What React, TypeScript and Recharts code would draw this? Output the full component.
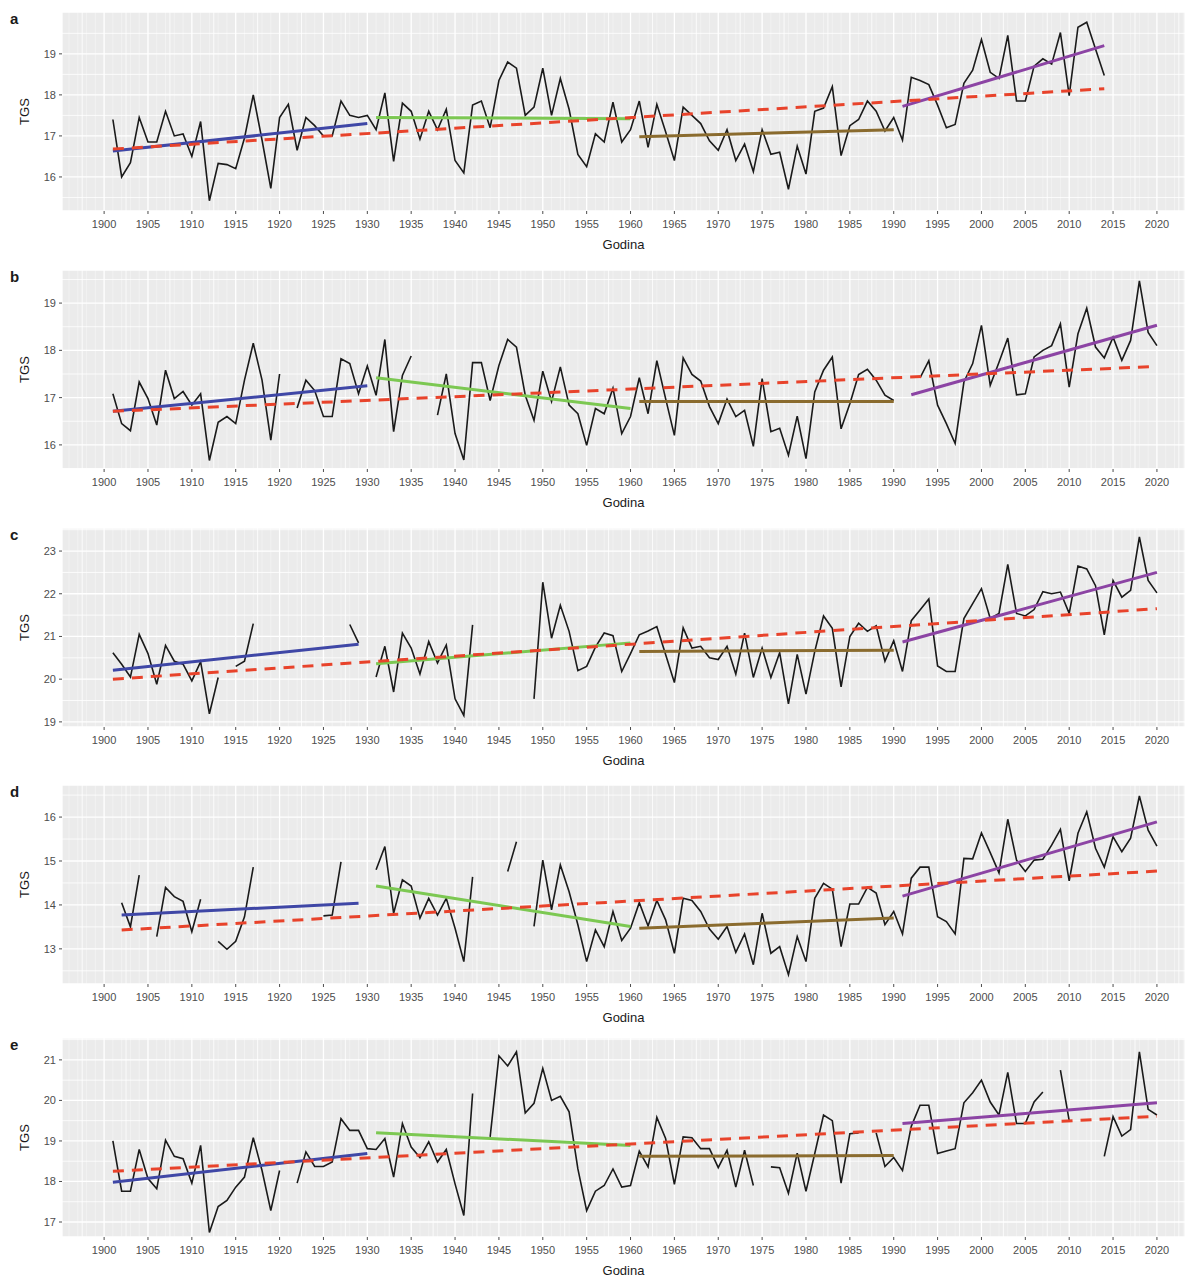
import React from 'react';
import { LineChart, Line, XAxis, YAxis, CartesianGrid, ReferenceLine } from 'recharts';

const years = Array.from({ length: 120 }, (_, i) => 1901 + i);
const xTicks = Array.from({ length: 25 }, (_, i) => 1900 + i * 5);

// annual TGS values, 1901..2020 (null = missing year)
const tgsA = [
  17.4, 16.0, 16.35, 17.45, 16.85, 16.85, 17.6, 17.0, 17.05, 16.5,
  17.35, 15.42, 16.33, 16.3, 16.2, 16.95, 18.0, 16.9, 15.72, 17.45,
  17.77, 16.65, 17.45, 17.25, 17.0, 17.0, 17.85, 17.5, 17.45, 17.5,
  17.15, 18.05, 16.38, 17.8, 17.6, 16.92, 17.6, 17.15, 17.65, 16.4,
  16.1, 17.75, 17.85, 17.2, 18.35, 18.8, 18.65, 17.5, 17.7, 18.65,
  17.5, 18.4, 17.65, 16.55, 16.25, 17.05, 16.85, 17.82, 16.85, 17.15,
  17.85, 16.72, 17.77, 17.1, 16.4, 17.7, 17.5, 17.3, 16.88, 16.65,
  17.15, 16.4, 16.8, 16.13, 17.15, 16.55, 16.6, 15.7, 16.75, 16.07,
  17.6, 17.68, 18.2, 16.52, 17.25, 17.4, 17.85, 17.6, 17.12, 17.45,
  16.9, 18.43, 18.35, 18.25, 17.75, 17.2, 17.28, 18.28, 18.6, 19.35,
  18.55, 18.4, 19.45, 17.85, 17.85, 18.7, 18.88, 18.75, 19.52, 17.98,
  19.65, 19.77, 19.12, 18.47, null, null, null, null, null, null,
];

const tgsB = [
  17.08, 16.45, 16.3, 17.33, 16.98, 16.42, 17.58, 16.98, 17.13, 16.84,
  17.08, 15.67, 16.48, 16.6, 16.45, 17.37, 18.15, 17.37, 16.1, 17.5,
  null, 16.78, 17.37, 17.15, 16.6, 16.6, 17.82, 17.72, 17.08, 17.67,
  17.05, 18.23, 16.28, 17.47, 17.88, null, null, 16.63, 17.5, 16.24,
  15.68, 17.74, 17.74, 16.94, 17.68, 18.23, 18.07, 17.05, 16.52, 17.56,
  16.92, 17.65, 16.84, 16.66, 15.99, 16.77, 16.66, 17.2, 16.24, 16.6,
  17.42, 16.66, 17.78, 16.98, 16.2, 17.84, 17.49, 17.35, 16.81, 16.45,
  16.97, 16.6, 16.73, 15.97, 17.4, 16.28, 16.35, 15.78, 16.61, 15.71,
  17.12, 17.58, 17.86, 16.34, 16.87, 17.49, 17.6, 17.37, 17.05, 16.94,
  null, null, 17.42, 17.78, 16.84, 16.45, 16.03, 17.33, 17.72, 18.53,
  17.26, 17.75, 18.26, 17.06, 17.08, 17.86, 18.0, 18.1, 18.56, 17.22,
  18.35, 18.89, 18.07, 17.84, 18.28, 17.79, 18.21, 19.47, 18.38, 18.1,
];

const tgsC = [
  20.62, 20.35, 20.05, 21.05, 20.6, 19.88, 20.79, 20.42, 20.35, 19.96,
  20.41, 19.19, 20.04, null, 20.3, 20.42, 21.3, null, null, null,
  null, null, null, null, null, null, null, 21.28, 20.85, null,
  20.05, 20.77, 19.7, 21.08, 20.73, 20.12, 20.88, 20.38, 20.8, 19.54,
  19.15, 21.27, null, null, null, null, null, null, 19.54, 22.27,
  20.96, 21.73, 21.12, 20.2, 20.3, 20.75, 21.08, 21.02, 20.18, 20.6,
  21.04, 21.13, 21.23, 20.58, 19.92, 21.2, 20.73, 20.77, 20.5, 20.46,
  20.77, 20.12, 21.08, 20.04, 20.73, 20.04, 20.62, 19.42, 20.58, 19.65,
  20.65, 21.48, 21.19, 19.82, 21.0, 21.31, 21.12, 21.25, 20.42, 20.9,
  20.18, 21.37, 21.62, 21.88, 20.31, 20.18, 20.18, 21.42, 21.77, 22.12,
  21.42, 21.54, 22.69, 21.54, 21.48, 21.63, 22.05, 22.0, 22.04, 21.54,
  22.65, 22.58, 22.19, 21.04, 22.31, 21.92, 22.08, 23.33, 22.31, 22.02,
];

const tgsD = [
  null, 14.05, 13.5, 14.68, null, 13.28, 14.4, 14.19, 14.08, 13.39,
  14.13, null, 13.17, 12.99, 13.17, 13.73, 14.86, null, null, null,
  null, null, null, null, 13.75, 13.77, 14.98, null, null, null,
  14.8, 15.33, 13.81, 14.57, 14.43, 13.7, 14.15, 13.77, 14.15, 13.47,
  12.71, 14.64, null, null, null, 14.76, 15.44, null, 13.51, 15.02,
  13.89, 14.91, 14.3, 13.55, 12.71, 13.43, 13.05, 13.85, 13.19, 13.47,
  14.05, 13.52, 14.1, 13.66, 12.9, 14.15, 14.1, 13.85, 13.45, 13.22,
  13.51, 12.92, 13.34, 12.64, 13.81, 12.9, 13.05, 12.41, 13.28, 12.71,
  14.15, 14.49, 14.36, 13.05, 14.02, 14.02, 14.4, 14.27, 13.55, 13.85,
  13.34, 14.61, 14.86, 14.86, 13.73, 13.62, 13.34, 15.06, 15.05, 15.64,
  15.19, 14.73, 15.95, 15.02, 14.76, 15.02, 15.04, 15.36, 15.72, 14.55,
  15.63, 16.12, 15.29, 14.86, 15.55, 15.21, 15.52, 16.48, 15.7, 15.34,
];

const tgsE = [
  19.0, 17.76, 17.76, 18.79, 18.07, 17.82, 19.02, 18.62, 18.56, 17.96,
  18.89, 16.74, 17.38, 17.53, 17.86, 18.11, 19.08, 18.27, 17.28, 18.27,
  null, 17.96, 18.73, 18.37, 18.37, 18.48, 19.55, 19.26, 19.26, 18.81,
  18.79, 19.06, 18.11, 19.43, 18.85, 18.59, 18.98, 18.48, 18.79, 17.94,
  17.16, 20.17, null, 19.1, 21.1, 20.85, 21.2, 19.69, 19.93, 20.79,
  20.0, 20.1, 19.72, 18.31, 17.28, 17.76, 17.9, 18.31, 17.86, 17.9,
  18.75, 18.36, 19.58, 19.06, 17.93, 19.1, 19.08, 18.81, 18.81, 18.34,
  18.77, 17.86, 18.77, 17.9, null, 18.36, 18.34, 17.71, 18.7, 17.76,
  18.69, 19.64, 19.5, 17.96, 19.18, 19.2, null, 19.2, 18.37, 18.59,
  18.27, 19.36, 19.88, 19.88, 18.69, 18.75, 18.81, 19.94, 20.19, 20.5,
  19.96, 19.64, 20.69, 19.43, 19.43, 19.96, 20.21, null, 20.75, 19.5,
  null, null, null, 18.62, 19.6, 19.12, 19.28, 21.2, 19.78, 19.64,
];

// linear fits: [startYear, startValue, endYear, endValue]
// order: 1901-1930, 1931-1960, 1961-1990, 1991-2020, whole period
const fitA = [
  [1901, 16.63, 1930, 17.3],
  [1931, 17.45, 1960, 17.42],
  [1961, 16.98, 1990, 17.15],
  [1991, 17.72, 2014, 19.2],
  [1901, 16.68, 2014, 18.15],
];
const fitB = [
  [1901, 16.71, 1930, 17.25],
  [1931, 17.42, 1960, 16.77],
  [1961, 16.92, 1990, 16.92],
  [1992, 17.06, 2020, 18.53],
  [1901, 16.71, 2020, 17.66],
];
const fitC = [
  [1901, 20.21, 1929, 20.82],
  [1931, 20.36, 1960, 20.85],
  [1961, 20.65, 1990, 20.68],
  [1991, 20.87, 2020, 22.5],
  [1901, 20.0, 2020, 21.65],
];
const fitD = [
  [1902, 13.77, 1929, 14.04],
  [1931, 14.43, 1960, 13.51],
  [1961, 13.47, 1990, 13.7],
  [1991, 14.2, 2020, 15.89],
  [1902, 13.43, 2020, 14.77],
];
const fitE = [
  [1901, 17.98, 1930, 18.69],
  [1931, 19.2, 1960, 18.89],
  [1961, 18.62, 1990, 18.64],
  [1991, 19.43, 2020, 19.94],
  [1901, 18.25, 2020, 19.61],
];

const fitKeys = ['p1', 'p2', 'p3', 'p4', 'all'];
const fitColors = ['#3f47a6', '#7cc852', '#8a6b2e', '#8c44a4', '#e8432b'];

const FONT = '"Liberation Sans", Arial, sans-serif';
const X_DOMAIN: [number, number] = [1895.2, 2023.2];

function buildRows(values: (number | null)[], fits: number[][]) {
  return years.map((yr, i) => {
    const row: Record<string, number | null> = { year: yr, tgs: values[i] };
    fits.forEach((f, k) => {
      if (yr === f[0]) row[fitKeys[k]] = f[1];
      else if (yr === f[2]) row[fitKeys[k]] = f[3];
    });
    return row;
  });
}

type PanelProps = {
  letter: string;
  values: (number | null)[];
  fits: number[][];
  yDomain: [number, number];
  yTicks: number[];
  top: number;
};

function Panel({ letter, values, fits, yDomain, yTicks, top }: PanelProps) {
  const rows = buildRows(values, fits);

  const yearLines: number[] = [];
  for (let y = 1896; y <= 2023; y++) if (y % 5 !== 0) yearLines.push(y);
  const halfLines: number[] = [];
  for (let y = 1897.5; y <= 2023; y += 5) halfLines.push(y);
  const halfY: number[] = [];
  for (let v = Math.floor(yDomain[0]) + 0.5; v < yDomain[1]; v += 1) {
    if (v > yDomain[0]) halfY.push(v);
  }

  const tickStyle = { fill: '#4d4d4d', fontSize: 11, fontFamily: FONT };

  return (
    <div style={{ position: 'absolute', left: 0, top, width: 1200, height: 257 }}>
      <LineChart
        width={1200}
        height={257}
        data={rows}
        margin={{ top: 12, right: 15, left: 0, bottom: 0 }}
      >
        <CartesianGrid fill="#ebebeb" stroke="#ffffff" strokeWidth={1.3} />
        {yearLines.map((y) => (
          <ReferenceLine key={'yl' + y} x={y} stroke="#ffffff" strokeWidth={0.5} strokeOpacity={0.7} />
        ))}
        {halfLines.map((y) => (
          <ReferenceLine key={'hl' + y} x={y} stroke="#ffffff" strokeWidth={0.8} />
        ))}
        {halfY.map((v) => (
          <ReferenceLine key={'hy' + v} y={v} stroke="#ffffff" strokeWidth={0.8} />
        ))}
        <XAxis
          type="number"
          dataKey="year"
          domain={X_DOMAIN}
          ticks={xTicks}
          interval={0}
          allowDataOverflow
          axisLine={false}
          tickSize={3}
          tickMargin={6}
          tickLine={{ stroke: '#4d4d4d' }}
          tick={tickStyle}
          height={46}
          label={{
            value: 'Godina',
            position: 'insideBottom',
            offset: 8,
            style: { fill: '#1a1a1a', fontSize: 13, fontFamily: FONT },
          }}
        />
        <YAxis
          type="number"
          domain={yDomain}
          ticks={yTicks}
          interval={0}
          allowDataOverflow
          width={62}
          axisLine={false}
          tickSize={3}
          tickMargin={3}
          tickLine={{ stroke: '#4d4d4d' }}
          tick={tickStyle}
          label={{
            value: 'TGS',
            angle: -90,
            position: 'center',
            dx: -7,
            style: { fill: '#1a1a1a', fontSize: 13, fontFamily: FONT },
          }}
        />
        <Line
          type="linear"
          dataKey="tgs"
          stroke="#1a1a1a"
          strokeWidth={1.6}
          dot={false}
          activeDot={false}
          connectNulls={false}
          isAnimationActive={false}
        />
        {fitKeys.map((k, i) => (
          <Line
            key={k}
            type="linear"
            dataKey={k}
            stroke={fitColors[i]}
            strokeWidth={3}
            strokeDasharray={k === 'all' ? '11 8' : undefined}
            dot={false}
            activeDot={false}
            connectNulls
            isAnimationActive={false}
          />
        ))}
      </LineChart>
      <div
        style={{
          position: 'absolute',
          left: 10,
          top: 10,
          fontFamily: FONT,
          fontWeight: 'bold',
          fontSize: 15,
          color: '#1a1a1a',
        }}
      >
        {letter}
      </div>
    </div>
  );
}

export default function App() {
  return (
    <div style={{ position: 'absolute', left: 0, top: 0, width: 1200, height: 1281, background: '#ffffff' }}>
      <Panel letter="a" values={tgsA} fits={fitA} yDomain={[15.17, 20.02]} yTicks={[16, 17, 18, 19]} top={0} />
      <Panel letter="b" values={tgsB} fits={fitB} yDomain={[15.49, 19.7]} yTicks={[16, 17, 18, 19]} top={258} />
      <Panel letter="c" values={tgsC} fits={fitC} yDomain={[18.88, 23.54]} yTicks={[19, 20, 21, 22, 23]} top={516} />
      <Panel letter="d" values={tgsD} fits={fitD} yDomain={[12.2, 16.73]} yTicks={[13, 14, 15, 16]} top={773} />
      <Panel letter="e" values={tgsE} fits={fitE} yDomain={[16.63, 21.54]} yTicks={[17, 18, 19, 20, 21]} top={1026} />
    </div>
  );
}
